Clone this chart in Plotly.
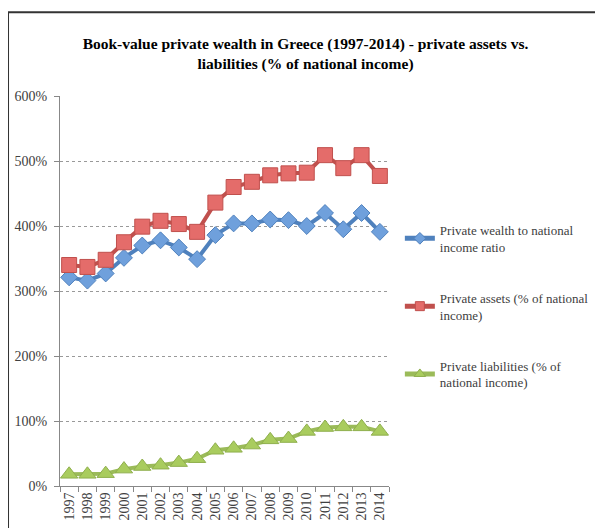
import plotly.graph_objects as go

years = [str(y) for y in range(1997, 2015)]
wealth = [321, 316, 327, 351, 370, 378, 367, 349, 386, 404, 404, 410, 409, 400, 420, 395, 420, 391]
assets = [340, 337, 348, 375, 399, 408, 403, 391, 436, 460, 468, 478, 481, 482, 509, 489, 509, 477]
liabilities = [18, 18, 19, 26, 30, 32, 36, 42, 55, 58, 63, 71, 73, 84, 90, 91, 91, 84]
names = ["Private wealth to national<br>income ratio",
         "Private assets (% of national<br>income)",
         "Private liabilities (% of<br>national income)"]
yticks = [0, 100, 200, 300, 400, 500, 600]

FONT = "Liberation Serif, Times New Roman, DejaVu Serif, serif"

styles = [
    dict(line="#4F81BD", fill="#6FA0DC", edge="#4F81BD", symbol="diamond", size=13, lsize=9),
    dict(line="#C0504D", fill="#E46C6A", edge="#C0504D", symbol="square", size=15, lsize=9),
    dict(line="#9BBB59", fill="#A9CC5E", edge="#8FAF4D", symbol="triangle-up", size=15, lsize=10),
]
series = [wealth, assets, liabilities]

fig = go.Figure()
for i, (vals, st) in enumerate(zip(series, styles)):
    fig.add_trace(go.Scatter(
        x=years, y=vals, name=names[i], mode="lines+markers", showlegend=False,
        line=dict(color=st["line"], width=4),
        marker=dict(symbol=st["symbol"], size=st["size"], color=st["fill"],
                    line=dict(color=st["edge"], width=1))))
for i, st in enumerate(styles):
    fig.add_trace(go.Scatter(
        x=[None], y=[None], name=names[i], mode="lines+markers", legendgroup=f"g{i}",
        line=dict(color=st["line"], width=5),
        marker=dict(symbol=st["symbol"], size=st["lsize"], color=st["fill"],
                    line=dict(color=st["edge"], width=1))))

fig.update_layout(
    width=595, height=520,
    margin=dict(l=52, r=214, t=88, b=42, autoexpand=False),
    paper_bgcolor="white", plot_bgcolor="white",
    font=dict(family=FONT, size=14, color="#404040"),
    title=dict(text="<b>Book-value private wealth in Greece (1997-2014) - private assets vs.<br>liabilities (% of national income)</b>",
               x=0.5, xref="container", xanchor="center",
               y=0.921, yref="container", yanchor="middle",
               font=dict(family=FONT, size=15.5, color="black")),
    legend=dict(x=1.033, xanchor="left", y=0.695, yanchor="top",
                font=dict(family=FONT, size=13, color="#404040"),
                tracegroupgap=31, itemwidth=30, bgcolor="rgba(0,0,0,0)"),
    showlegend=True,
)
fig.update_xaxes(
    type="category", range=[-0.5, len(years) - 0.5], tickangle=-90, showgrid=False, automargin=False,
    tickmode="array", tickvals=years, ticktext=years,
    showline=True, linecolor="#888888", linewidth=1,
    ticks="outside", tickson="boundaries", ticklen=5, tickcolor="#888888",
    tickfont=dict(family=FONT, size=14, color="#404040"),
)
fig.update_yaxes(
    range=[0, 600], tickvals=yticks, ticktext=[f"{v}%" for v in yticks],
    showgrid=True, gridcolor="#999999", griddash="dot", gridwidth=1, automargin=False,
    showline=True, linecolor="#888888", linewidth=1, ticklabelstandoff=4,
    ticks="outside", ticklen=5, tickcolor="#888888", zeroline=False,
    tickfont=dict(family=FONT, size=14, color="#404040"),
)
fig.add_shape(type="rect", xref="paper", yref="paper",
              x0=-0.158, x1=1.641, y0=-0.2, y1=1.215,
              line=dict(color="#333333", width=2), fillcolor="rgba(0,0,0,0)", layer="below")

fig.write_html("out.html")
